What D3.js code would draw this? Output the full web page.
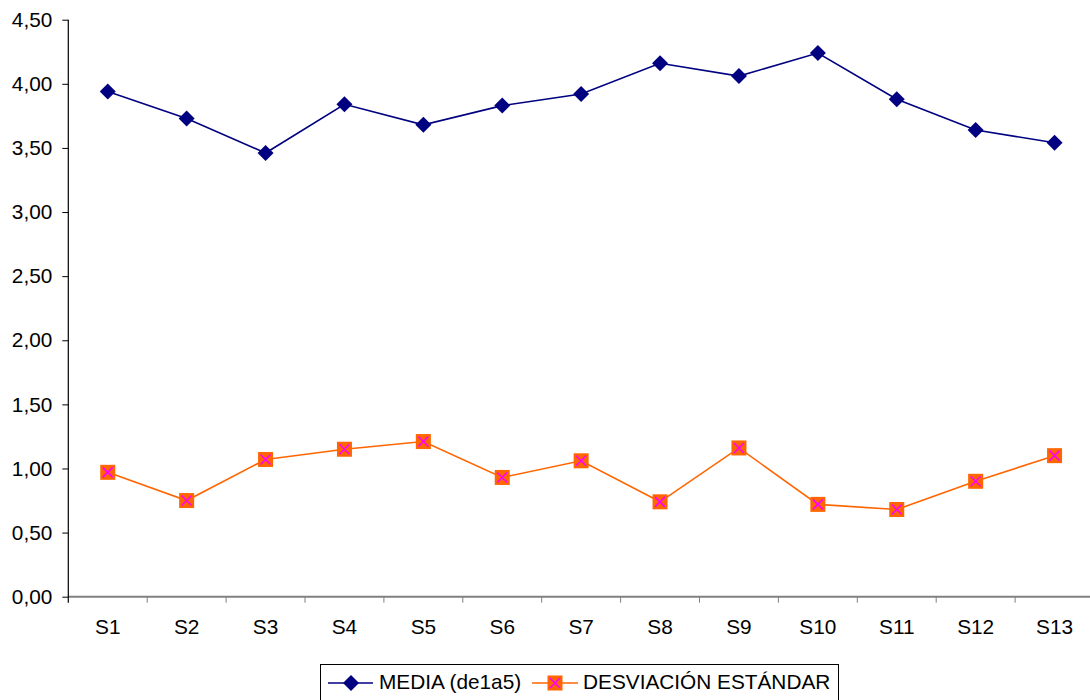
<!DOCTYPE html>
<html>
<head>
<meta charset="utf-8">
<script src="https://cdn.jsdelivr.net/npm/d3@7"></script>
<style>
  body { margin: 0; background: #fff; }
  svg { display: block; font-family: "Liberation Sans", Arial, sans-serif; }
</style>
</head>
<body>
<svg id="chart" width="1090" height="700"></svg>
<script>
// datos
const categorias = ['S1','S2','S3','S4','S5','S6','S7','S8','S9','S10','S11','S12','S13']
const media = [3.94, 3.73, 3.46, 3.84, 3.68, 3.83, 3.92, 4.16, 4.06, 4.24, 3.88, 3.64, 3.54]
const desviacion = [0.97, 0.75, 1.07, 1.15, 1.21, 0.93, 1.06, 0.74, 1.16, 0.72, 0.68, 0.90, 1.10]
const yTicks = [0, 0.5, 1, 1.5, 2, 2.5, 3, 3.5, 4, 4.5]
const nombreMedia = 'MEDIA (de1a5)'
const nombreDesv = 'DESVIACIÓN ESTÁNDAR'

const svg = d3.select('#chart')
const mLeft = 68.3, mRight = 1094, mTop = 19.7, mBottom = 596.7
const fontSize = '20.8px'

const xScale = d3.scaleBand().domain(categorias).range([mLeft, mRight])
const yScale = d3.scaleLinear().domain([0, 4.5]).range([mBottom, mTop])
const cx = d => xScale(d) + xScale.bandwidth() / 2

// eje Y
const yAxis = d3.axisLeft(yScale)
    .tickValues(yTicks)
    .tickSize(6)
    .tickFormat(d => d3.format('.2f')(d).replace('.', ','))

const gy = svg.append('g').attr('transform', `translate(${mLeft},0)`).call(yAxis)
gy.select('.domain').remove()
gy.selectAll('.tick line').attr('stroke', '#000')
gy.selectAll('text')
    .attr('x', -16)
    .style('font-size', fontSize)
    .style('fill', '#000')

// eje X
const xAxis = d3.axisBottom(xScale).tickSize(0).tickPadding(23)
const gx = svg.append('g').attr('transform', `translate(0,${mBottom})`).call(xAxis)
gx.select('.domain').remove()
gx.selectAll('text').style('font-size', fontSize).style('fill', '#000')

svg.append('line')
    .attr('x1', mLeft).attr('x2', 1090)
    .attr('y1', mBottom).attr('y2', mBottom)
    .attr('stroke', '#808080').attr('stroke-width', 2)

// marcas entre categorias
svg.selectAll('.xtick')
    .data(categorias.slice(1))
    .join('line')
    .attr('class', 'xtick')
    .attr('x1', d => xScale(d)).attr('x2', d => xScale(d))
    .attr('y1', mBottom).attr('y2', mBottom + 6)
    .attr('stroke', '#808080')

svg.append('line')
    .attr('x1', mLeft).attr('x2', mLeft)
    .attr('y1', mTop).attr('y2', mBottom + 6)
    .attr('stroke', '#000').attr('stroke-width', 1.2)

// lineas
const linea = d3.line().x((d, i) => cx(categorias[i])).y(d => yScale(d))

svg.append('path')
    .datum(media)
    .attr('d', linea)
    .attr('fill', 'none')
    .attr('stroke', '#000080')
    .attr('stroke-width', 1.6)

svg.append('path')
    .datum(desviacion)
    .attr('d', linea)
    .attr('fill', 'none')
    .attr('stroke', '#FF6600')
    .attr('stroke-width', 1.6)

function diamante(g, x, y) {
    g.append('path')
        .attr('d', `M${x},${y - 8}L${x + 8},${y}L${x},${y + 8}L${x - 8},${y}Z`)
        .attr('fill', '#000080')
}

function cuadrado(g, x, y) {
    g.append('rect')
        .attr('x', x - 7.5).attr('y', y - 7.5)
        .attr('width', 15).attr('height', 15)
        .attr('fill', '#FF6600')
    g.append('path')
        .attr('d', `M${x - 5},${y - 5}L${x + 5},${y + 5}M${x + 5},${y - 5}L${x - 5},${y + 5}`)
        .attr('stroke', '#FF00FF').attr('stroke-width', 1.6)
}

const gm = svg.append('g')
media.forEach((v, i) => diamante(gm, cx(categorias[i]), yScale(v)))
const gd = svg.append('g')
desviacion.forEach((v, i) => cuadrado(gd, cx(categorias[i]), yScale(v)))

// leyenda
const leg = svg.append('g')
leg.append('rect')
    .attr('x', 320.5).attr('y', 664.5)
    .attr('width', 518).attr('height', 40)
    .attr('fill', '#fff').attr('stroke', '#000')

leg.append('line').attr('x1', 328).attr('x2', 373).attr('y1', 683).attr('y2', 683)
    .attr('stroke', '#000080').attr('stroke-width', 1.6)
diamante(leg, 351, 683)
leg.append('text').attr('x', 379).attr('y', 689)
    .style('font-size', fontSize).text(nombreMedia)

leg.append('line').attr('x1', 532).attr('x2', 578).attr('y1', 683).attr('y2', 683)
    .attr('stroke', '#FF6600').attr('stroke-width', 1.6)
cuadrado(leg, 555, 683)
leg.append('text').attr('x', 583).attr('y', 689)
    .style('font-size', fontSize).text(nombreDesv)
</script>
</body>
</html>
